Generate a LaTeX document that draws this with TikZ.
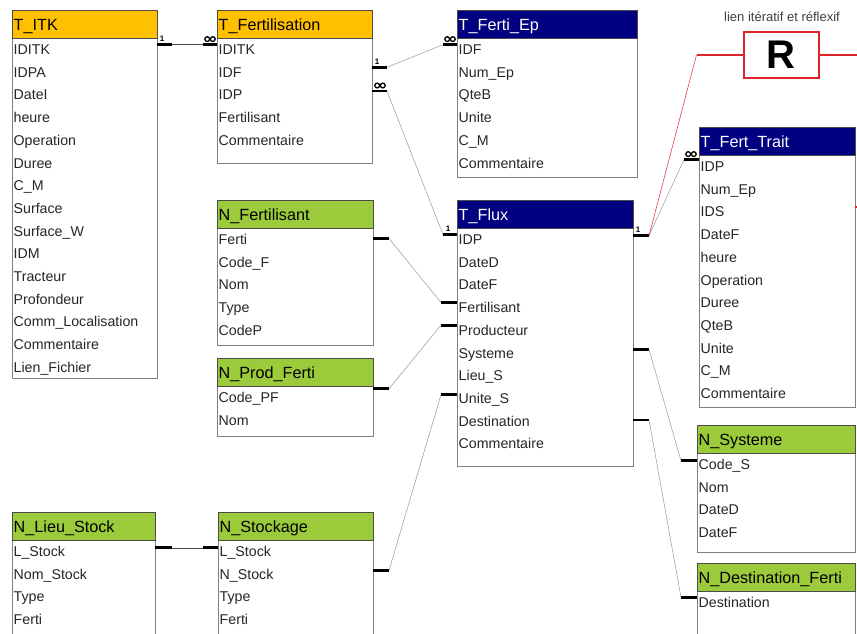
\documentclass[tikz,border=0pt]{standalone}
\usepackage{fontspec}
\setmainfont{Liberation Sans}
\usetikzlibrary{calc}
\definecolor{hdorange}{HTML}{FFC000}
\definecolor{hdgreen}{HTML}{9BCB3B}
\definecolor{hdblue}{HTML}{000080}
\definecolor{bord}{HTML}{808080}
\definecolor{rline}{HTML}{E0242B}
\tikzset{
  hdr/.style={draw=black!70, line width=0.8pt, anchor=north west, inner sep=0pt, outer sep=0pt},
  bodyb/.style={draw=bord, line width=0.8pt, fill=white, anchor=north west, inner sep=0pt, outer sep=0pt},
  rowtxt/.style={anchor=base west, inner sep=0pt, font=\fontsize{14.2}{15}\selectfont, text=black!85},
  ttl/.style={anchor=base west, inner sep=0pt, font=\fontsize{16.2}{17}\selectfont},
  bar/.style={line width=2.8pt, black},
  link/.style={draw=black!40, line width=0.5pt},
  onelbl/.style={font=\fontsize{8}{8}\bfseries\selectfont, inner sep=0pt},
  infc/.style={line width=1.3pt, black},
}
\newcommand\mktbl[9]{%
  \node[bodyb, minimum width=#4pt, minimum height=#5pt] (#1) at (#2,#3+28) {};
  \node[hdr, fill=#6, minimum width=#4pt, minimum height=28pt] (#1h) at (#2,#3) {};
  \node[ttl, text=#7] (#1t) at (#2+1.5,#3+20.5) {#8};
  \foreach \r [count=\i] in {#9} {\node[rowtxt] (#1-\i) at (#2+1.5,#3+44.5+\i*22.7-22.7) {\r};}
}
\newcommand\infmark[1]{%
  \draw[infc] ($(#1)+(-2.8,-5.5)$) circle[radius=2.4pt];
  \draw[infc] ($(#1)+(2.8,-5.5)$) circle[radius=2.4pt];
}
\begin{document}
\begin{tikzpicture}[x=1pt,y=-1pt]
\clip (0,0) rectangle (857,633);
\useasboundingbox (0,0) rectangle (857,633);
\fill[white] (0,0) rectangle (857,633);

\mktbl{itk}{12}{10}{145}{340}{hdorange}{black}{T\_ITK}{IDITK,IDPA,DateI,heure,Operation,Duree,C\_M,Surface,Surface\_W,IDM,Tracteur,Profondeur,Comm\_Localisation,Commentaire,Lien\_Fichier}
\mktbl{fer}{217}{10}{155}{125}{hdorange}{black}{T\_Fertilisation}{IDITK,IDF,IDP,Fertilisant,Commentaire}
\mktbl{fep}{457}{10}{180}{139}{hdblue}{white}{T\_Ferti\_Ep}{IDF,Num\_Ep,QteB,Unite,C\_M,Commentaire}
\mktbl{flux}{457}{200}{176}{238}{hdblue}{white}{T\_Flux}{IDP,DateD,DateF,Fertilisant,Producteur,Systeme,Lieu\_S,Unite\_S,Destination,Commentaire}
\mktbl{ftr}{699}{127}{156}{252}{hdblue}{white}{T\_Fert\_Trait}{IDP,Num\_Ep,IDS,DateF,heure,Operation,Duree,QteB,Unite,C\_M,Commentaire}
\mktbl{nfe}{217}{200}{156}{117}{hdgreen}{black}{N\_Fertilisant}{Ferti,Code\_F,Nom,Type,CodeP}
\mktbl{npf}{217}{358}{156}{50}{hdgreen}{black}{N\_Prod\_Ferti}{Code\_PF,Nom}
\mktbl{nsy}{697}{425}{158}{99}{hdgreen}{black}{N\_Systeme}{Code\_S,Nom,DateD,DateF}
\mktbl{ndf}{697}{563}{158}{80}{hdgreen}{black}{N\_Destination\_Ferti}{Destination}
\mktbl{nls}{12}{512}{143}{130}{hdgreen}{black}{N\_Lieu\_Stock}{L\_Stock,Nom\_Stock,Type,Ferti}
\mktbl{nst}{218}{512}{155}{130}{hdgreen}{black}{N\_Stockage}{L\_Stock,N\_Stock,Type,Ferti}

% R (iterative / reflexive link)
\node[font=\fontsize{13}{13}\selectfont, text=black!75, inner sep=0pt] (lbl) at (782,17) {lien itératif et réflexif};
\node[draw=rline, line width=2pt, fill=white, minimum width=75pt, minimum height=46pt, inner sep=0pt,
      font=\fontsize{40}{40}\bfseries\selectfont] (R) at (781,55) {R};
\coordinate (rr) at (857,55);
\draw[rline, line width=2.4pt] (R.west) -- ++(-46,0) coordinate (rl);
\draw[rline, line width=2.4pt] (R.east) -- (rr);
\draw[rline, line width=1.6pt] ($(ftr.east |- ftr-3)+(0,-5)$) -- ++(3,0);

% 1: T_ITK.IDITK -- T_Fertilisation.IDITK
\draw[bar] ($(itk.east |- itk-1)+(0,-5)$) -- ++(15,0) coordinate (a1);
\draw[bar] ($(fer.west |- fer-1)+(0,-5)$) -- ++(-14,0) coordinate (b1);
\draw[link, draw=black!70] (a1) -- (b1);
\node[onelbl] at ($(itk.east |- itk-1)+(5,-10.5)$) {1};
\infmark{$(fer.west |- fer-1)+(-7,-5)$}

% 2: T_Fertilisation.IDF -- T_Ferti_Ep.IDF
\draw[bar] ($(fer.east |- fer-2)+(0,-5)$) -- ++(15,0) coordinate (a2);
\draw[bar] ($(fep.west |- fep-1)+(0,-5)$) -- ++(-14,0) coordinate (b2);
\draw[link] (a2) -- (b2);
\node[onelbl] at ($(fer.east |- fer-2)+(5,-10.5)$) {1};
\infmark{$(fep.west |- fep-1)+(-7,-5)$}

% 3: T_Fertilisation.IDP -- T_Flux.IDP
\draw[bar] ($(fer.east |- fer-3)+(0,-4)$) -- ++(15,0) coordinate (a3);
\draw[bar] ($(flux.west |- flux-1)+(0,-5)$) -- ++(-14,0) coordinate (b3);
\draw[link] (a3) -- (b3);
\infmark{$(fer.east |- fer-3)+(8,-4)$}
\node[onelbl] at ($(flux.west |- flux-1)+(-9,-10.5)$) {1};

% 4: N_Fertilisant.Ferti -- T_Flux.Fertilisant
\draw[bar] ($(nfe.east |- nfe-1)+(0,-1)$) -- ++(16,0) coordinate (a4);
\draw[bar] ($(flux.west |- flux-4)+(0,-5)$) -- ++(-16,0) coordinate (b4);
\draw[link] (a4) -- (b4);

% 5: N_Prod_Ferti.Code_PF -- T_Flux.Producteur
\draw[bar] ($(npf.east |- npf-1)+(0,-10)$) -- ++(16,0) coordinate (a5);
\draw[bar] ($(flux.west |- flux-5)+(0,-5)$) -- ++(-16,0) coordinate (b5);
\draw[link] (a5) -- (b5);

% 6: N_Stockage.N_Stock -- T_Flux.Unite_S
\draw[bar] ($(nst.east |- nst-2)+(0,-5)$) -- ++(16,0) coordinate (a6);
\draw[bar] ($(flux.west |- flux-8)+(0,-5)$) -- ++(-16,0) coordinate (b6);
\draw[link] (a6) -- (b6);

% 7: T_Flux.Systeme -- N_Systeme.Code_S
\draw[bar] ($(flux.east |- flux-6)+(0,-5)$) -- ++(16,0) coordinate (a7);
\draw[bar] ($(nsy.west |- nsy-1)+(0,-5)$) -- ++(-16,0) coordinate (b7);
\draw[link] (a7) -- (b7);

% 8: T_Flux.Destination -- N_Destination_Ferti.Destination
\draw[bar] ($(flux.east |- flux-9)+(0,-1)$) -- ++(16,0) coordinate (a8);
\draw[bar] ($(ndf.west |- ndf-1)+(0,-5)$) -- ++(-16,0) coordinate (b8);
\draw[link] (a8) -- (b8);

% 9: N_Lieu_Stock.L_Stock -- N_Stockage.L_Stock
\draw[bar] ($(nls.east |- nls-1)+(0,-5)$) -- ++(17,0) coordinate (a9);
\draw[bar] ($(nst.west |- nst-1)+(0,-5)$) -- ++(-15,0) coordinate (b9);
\draw[link, draw=black!70] (a9) -- (b9);

% 10: T_Flux.IDP -- T_Fert_Trait.IDP
\draw[bar] ($(flux.east |- flux-1)+(0,-4)$) -- ++(16,0) coordinate (a10);
\draw[bar] ($(ftr.west |- ftr-1)+(0,-7)$) -- ++(-15,0) coordinate (b10);
\draw[link] (a10) -- (b10);
\node[onelbl] at ($(flux.east |- flux-1)+(5,-9.5)$) {1};
\infmark{$(ftr.west |- ftr-1)+(-8,-7)$}

% red thin link from R to T_Flux
\draw[rline, line width=0.5pt] (rl) -- (a10);
\end{tikzpicture}
\end{document}
